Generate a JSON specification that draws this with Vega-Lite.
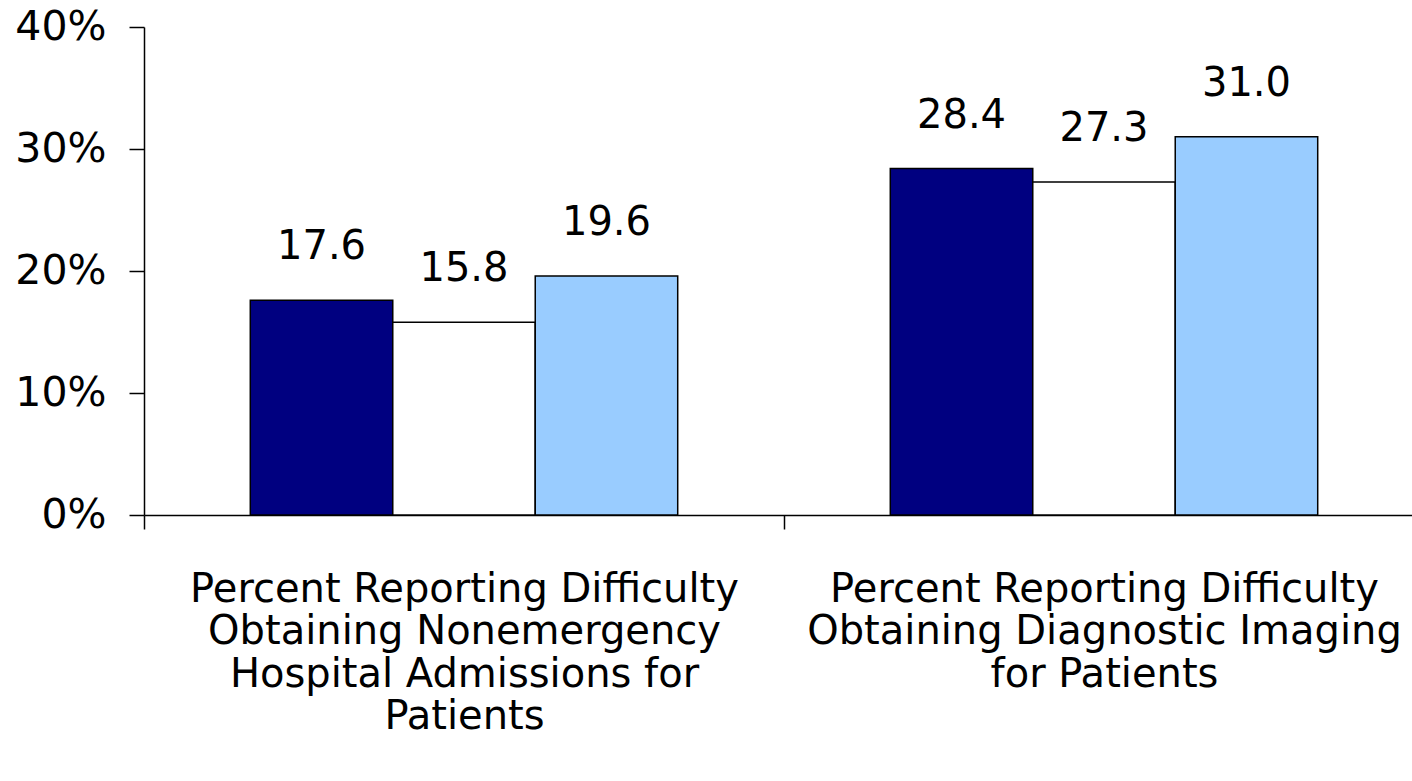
{
  "$schema": "https://vega.github.io/schema/vega-lite/v6.json",
  "autosize": "none",
  "width": 1268,
  "height": 488,
  "padding": {"left": 144, "top": 27, "right": 0, "bottom": 266},
  "background": "white",
  "config": {
    "view": {"stroke": null},
    "font": "DejaVu Sans",
    "axis": {"grid": false, "domainColor": "black", "tickColor": "black", "labelColor": "black", "domainWidth": 1.5, "tickWidth": 1.5, "labelFont": "DejaVu Sans"}
  },
  "data": {
    "values": [
      {"group": "Hospital", "series": "Series 1", "value": 17.6},
      {"group": "Hospital", "series": "Series 2", "value": 15.8},
      {"group": "Hospital", "series": "Series 3", "value": 19.6},
      {"group": "Imaging", "series": "Series 1", "value": 28.4},
      {"group": "Imaging", "series": "Series 2", "value": 27.3},
      {"group": "Imaging", "series": "Series 3", "value": 31.0}
    ]
  },
  "encoding": {
    "x": {
      "field": "group",
      "type": "nominal",
      "sort": ["Hospital", "Imaging"],
      "scale": {"range": [0, 1280], "paddingInner": 0, "paddingOuter": 0},
      "axis": {
        "title": null,
        "labelAngle": 0,
        "tickBand": "extent",
        "tickSize": 14,
        "labelPadding": 40,
        "labelFontSize": 40,
        "labelLineHeight": 42.5,
        "labelBaseline": "top",
        "labelAlign": "center",
        "labelBound": false,
        "labelOverlap": false,
        "labelLimit": 2000,
        "labelExpr": "datum.value == 'Hospital' ? ['Percent Reporting Difficulty', 'Obtaining Nonemergency', 'Hospital Admissions for', 'Patients'] : datum.value == 'Imaging' ? ['Percent Reporting Difficulty', 'Obtaining Diagnostic Imaging', 'for Patients'] : ''"
      }
    },
    "xOffset": {
      "field": "series",
      "type": "nominal",
      "sort": ["Series 1", "Series 2", "Series 3"],
      "scale": {"paddingInner": 0, "paddingOuter": 0.746}
    },
    "y": {
      "field": "value",
      "type": "quantitative",
      "scale": {"domain": [0, 40], "nice": false},
      "axis": {
        "title": null,
        "values": [0, 10, 20, 30, 40],
        "labelExpr": "datum.value + '%'",
        "tickSize": 15,
        "labelPadding": 23,
        "labelFontSize": 41
      }
    }
  },
  "layer": [
    {
      "mark": {"type": "bar", "stroke": "black", "strokeWidth": 1.5},
      "encoding": {
        "color": {
          "field": "series",
          "type": "nominal",
          "scale": {"domain": ["Series 1", "Series 2", "Series 3"], "range": ["#000080", "#FFFFFF", "#99CCFF"]},
          "legend": null
        }
      }
    },
    {
      "mark": {"type": "text", "baseline": "alphabetic", "align": "center", "dy": -41, "fontSize": 40, "color": "black", "font": "DejaVu Sans"},
      "encoding": {
        "text": {"field": "value", "type": "quantitative", "format": ".1f"}
      }
    }
  ]
}
